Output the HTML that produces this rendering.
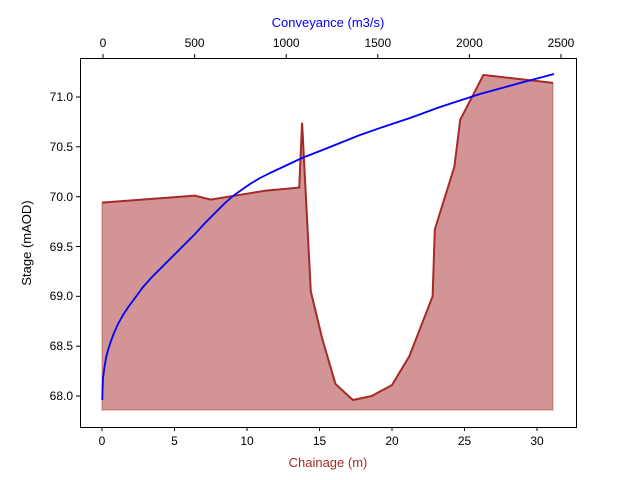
<!DOCTYPE html>
<html><head><meta charset="utf-8"><style>
body{margin:0;background:#fff;}
svg{display:block;font-family:"Liberation Sans","DejaVu Sans",sans-serif;}
</style></head><body>
<svg width="640" height="480" viewBox="0 0 640 480" xmlns="http://www.w3.org/2000/svg">
<rect width="640" height="480" fill="#fff"/>
<polygon points="102,202.6 194.8,195.6 210.8,199.6 265.9,190.6 299.2,187.6 302.1,122.8 310.8,291.3 322.4,339.2 335.5,384 352.9,400 371.7,396 392,385 409.4,356.1 432.6,296.3 434.8,229.5 454.4,166.7 460.2,119.8 483.4,74.9 553,82.9 553,410 102,410" fill="#a52a2a" fill-opacity="0.5" stroke="#a52a2a" stroke-opacity="0.5" stroke-width="1"/>
<polyline points="102,202.6 194.8,195.6 210.8,199.6 265.9,190.6 299.2,187.6 302.1,122.8 310.8,291.3 322.4,339.2 335.5,384 352.9,400 371.7,396 392,385 409.4,356.1 432.6,296.3 434.8,229.5 454.4,166.7 460.2,119.8 483.4,74.9 553,82.9" fill="none" stroke="#a52a2a" stroke-width="2"/>
<polyline points="102.3,400 102.5,390 103,378 104.5,367 106,358 108,350 111,341 114,333 118,324 123,315 129,306 135,298 143,287 152,277 160,269 168,261 176,253 185,244 195,234 205,223 215,213 225,203 233,196 240,191 250,184 260,178 270,173 285,166 302,158 320,151 340,143 360,135 383,127 410,118 440,107 480,94 520,83 554,74" fill="none" stroke="#0000ff" stroke-width="1.8" stroke-linejoin="round"/>
<rect x="80.5" y="58.5" width="496" height="369" fill="none" stroke="#000" stroke-width="1"/>
<g stroke="#000" stroke-width="1">
<line x1="102" y1="427" x2="102" y2="431"/><line x1="174.5" y1="427" x2="174.5" y2="431"/><line x1="247" y1="427" x2="247" y2="431"/><line x1="319.5" y1="427" x2="319.5" y2="431"/><line x1="392" y1="427" x2="392" y2="431"/><line x1="464.5" y1="427" x2="464.5" y2="431"/><line x1="537" y1="427" x2="537" y2="431"/>
<line x1="103" y1="58" x2="103" y2="54"/><line x1="194.6" y1="58" x2="194.6" y2="54"/><line x1="286.2" y1="58" x2="286.2" y2="54"/><line x1="377.8" y1="58" x2="377.8" y2="54"/><line x1="469.4" y1="58" x2="469.4" y2="54"/><line x1="561" y1="58" x2="561" y2="54"/>
<line x1="76" y1="97" x2="80" y2="97"/><line x1="76" y1="146.8" x2="80" y2="146.8"/><line x1="76" y1="196.7" x2="80" y2="196.7"/><line x1="76" y1="246.5" x2="80" y2="246.5"/><line x1="76" y1="296.3" x2="80" y2="296.3"/><line x1="76" y1="346.2" x2="80" y2="346.2"/><line x1="76" y1="396" x2="80" y2="396"/>
</g>
<g font-size="12" fill="#000" text-anchor="middle">
<text x="102" y="445">0</text><text x="174.5" y="445">5</text><text x="247" y="445">10</text><text x="319.5" y="445">15</text><text x="392" y="445">20</text><text x="464.5" y="445">25</text><text x="537" y="445">30</text>
<text x="103" y="47">0</text><text x="194.6" y="47">500</text><text x="286.2" y="47">1000</text><text x="377.8" y="47">1500</text><text x="469.4" y="47">2000</text><text x="561" y="47">2500</text>
</g>
<g font-size="12" fill="#000" text-anchor="end">
<text x="73" y="101">71.0</text><text x="73" y="151">70.5</text><text x="73" y="201">70.0</text><text x="73" y="251">69.5</text><text x="73" y="300">69.0</text><text x="73" y="350">68.5</text><text x="73" y="400">68.0</text>
</g>
<text x="328" y="467" font-size="13" fill="#a52a2a" text-anchor="middle">Chainage (m)</text>
<text x="328" y="27" font-size="13" fill="#0000ff" text-anchor="middle">Conveyance (m3/s)</text>
<text transform="translate(31,243) rotate(-90)" font-size="13" fill="#000" text-anchor="middle">Stage (mAOD)</text>
</svg>
</body></html>
